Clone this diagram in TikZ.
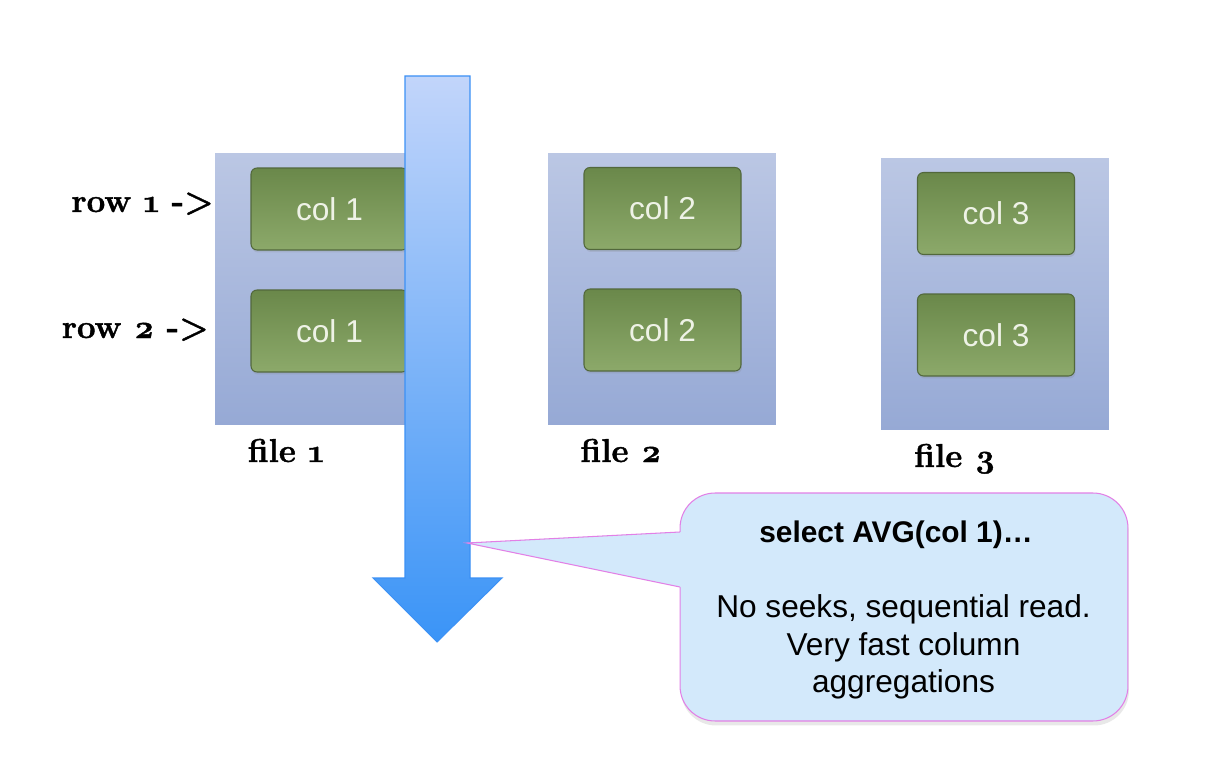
\documentclass[tikz,border=0pt]{standalone}
\usepackage{fontspec}
\newfontfamily\helv{Liberation Sans}
\newfontfamily\oldser{Latin Modern Roman}[Numbers=OldStyle, BoldFeatures={FakeBold=1.2}]
\usetikzlibrary{shadows}
\definecolor{fileTop}{RGB}{187,199,228}
\definecolor{fileBot}{RGB}{150,169,213}
\definecolor{grTop}{RGB}{106,136,74}
\definecolor{grBot}{RGB}{140,169,106}
\definecolor{grLine}{RGB}{82,104,60}
\definecolor{grText}{RGB}{238,242,230}
\definecolor{arTop}{RGB}{194,213,250}
\definecolor{arBot}{RGB}{58,148,247}
\definecolor{arLine}{RGB}{60,145,245}
\definecolor{callFill}{RGB}{211,233,251}
\definecolor{callLine}{RGB}{226,128,230}
\begin{document}
\begin{tikzpicture}[x=0.02cm,y=-0.02cm,
  filebox/.style={minimum width=4.56cm, minimum height=5.44cm, inner sep=0pt,
    top color=fileTop, bottom color=fileBot, draw=none},
  colbox/.style={minimum width=3.14cm, minimum height=1.64cm, inner sep=0pt,
    rounded corners=0.12cm, top color=grTop, bottom color=grBot, draw=grLine,
    line width=0.6pt, font=\helv\fontsize{18}{21}\selectfont, text=grText,
    drop shadow={opacity=0.2, shadow xshift=0.02cm, shadow yshift=-0.05cm}},
  rowlab/.style={font=\oldser\bfseries\fontsize{18.8}{22}\selectfont, anchor=base east, inner sep=0pt},
  filelab/.style={font=\oldser\bfseries\fontsize{18.8}{22}\selectfont, anchor=base, inner sep=0pt},
  callbox/.style={minimum width=8.96cm, minimum height=4.56cm, inner sep=0pt,
    rounded corners=0.7cm, fill=callFill, draw=callLine, line width=0.6pt,
    drop shadow={opacity=0.18, shadow xshift=0.02cm, shadow yshift=-0.09cm}},
  calltext/.style={font=\helv\fontsize{18}{21.3}\selectfont, align=center, inner sep=0pt},
  calltitle/.style={font=\helv\bfseries\fontsize{17}{20}\selectfont, inner sep=0pt},
  arrowbody/.style={top color=arTop, bottom color=arBot, draw=arLine, line width=0.6pt}
]
\path[use as bounding box, fill=white] (0,0) rectangle (1228,770);

% files
\node[filebox] (f1) at (329,289) {};
\node[filebox] (f2) at (662,289) {};
\node[filebox] (f3) at (995,294) {};

% column blocks
\node[colbox] (c11) at (329.5,209) {col 1};
\node[colbox] (c12) at (329.5,331) {col 1};
\node[colbox] (c21) at (662.5,208.5) {col 2};
\node[colbox] (c22) at (662.5,330) {col 2};
\node[colbox] (c31) at (996,213.5) {col 3};
\node[colbox] (c32) at (996,335) {col 3};

% labels
\node[rowlab] (r1) at (214,212) {row 1 ->};
\node[rowlab] (r2) at (209,338) {row 2 ->};
\node[filelab] (l1) at (286,462) {file 1};
\node[filelab] (l2) at (621,462) {file 2};
\node[filelab] (l3) at (955,467) {file 3};

% scan arrow
\path[arrowbody] (405,76) -- (470,76) -- (470,578) -- (502,578) -- (437,642)
  -- (373,578) -- (405,578) -- cycle;
\coordinate (tip) at (467,543);

% callout
\node[callbox] (call) at (904,607) {};
\coordinate (pa) at (680,532);
\coordinate (pb) at (680,587);
\fill[callFill] (tip) -- (pa) -- (692,532) -- (692,587) -- (pb) -- cycle;
\draw[callLine, line width=0.6pt] (pa) -- (tip) -- (pb);
\node[calltitle] (q) at (896,535) {select AVG(col 1)…};
\node[calltext] (note) at (903.5,647) {No seeks, sequential read.\\Very fast column\\aggregations};
\end{tikzpicture}
\end{document}
